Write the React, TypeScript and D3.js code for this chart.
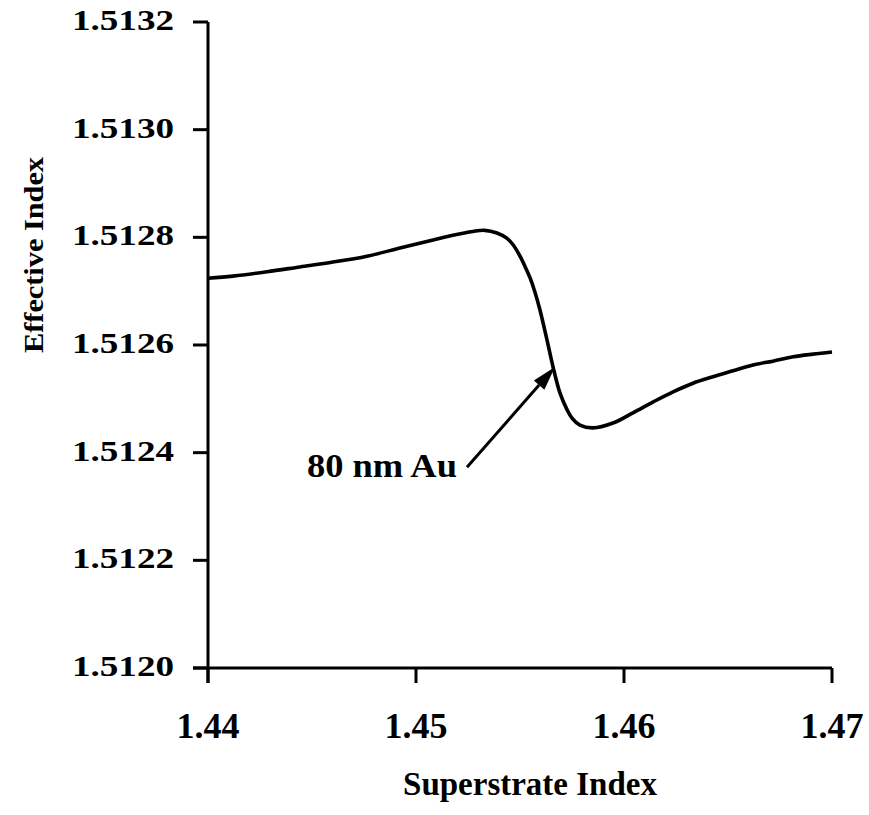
import React from "react";
import * as d3 from "d3";

// superstrate index vs effective index
const superstrate = [
  1.44, 1.4412, 1.44284, 1.44442, 1.44601, 1.44764, 1.44923, 1.45082, 1.45178,
  1.45274, 1.4533, 1.45389, 1.45438, 1.45471, 1.455, 1.45524, 1.45548,
  1.45572, 1.45596, 1.4563, 1.45659, 1.45692, 1.45726, 1.4575, 1.45788,
  1.45851, 1.45947, 1.46043, 1.46139, 1.46236, 1.46332, 1.46428, 1.46524,
  1.4662, 1.46716, 1.46813, 1.46909, 1.47,
];
const effective = [
  1.512724, 1.512728, 1.512736, 1.512745, 1.512754, 1.512765, 1.51278,
  1.512795, 1.512804, 1.512811, 1.512813, 1.512808, 1.512798, 1.512784,
  1.512765, 1.512746, 1.512725, 1.512698, 1.512665, 1.512609, 1.512559,
  1.512511, 1.51248, 1.512464, 1.512451, 1.512446, 1.512455, 1.512474,
  1.512494, 1.512513, 1.512529, 1.512541, 1.512552, 1.512563, 1.51257,
  1.512578, 1.512583, 1.512587,
];

const xTicks = [1.44, 1.45, 1.46, 1.47];
const yTicks = [1.512, 1.5122, 1.5124, 1.5126, 1.5128, 1.513, 1.5132];

// annotation: label end and arrow tip, in data units
const noteLabel = "80 nm Au";
const noteTail = [1.45245, 1.512373];
const noteTip = [1.45668, 1.512559];
const noteText = [1.45197, 1.512355];

const font = "'Liberation Serif', 'Times New Roman', serif";

export default function App() {
  const width = 869;
  const height = 815;
  const left = 208;
  const right = 832;
  const top = 22;
  const bottom = 668;

  const x = d3.scaleLinear().domain([1.44, 1.47]).range([left, right]);
  const y = d3.scaleLinear().domain([1.512, 1.5132]).range([bottom, top]);

  const pts = superstrate.map((s, i) => [s, effective[i]] as [number, number]);
  const line = d3
    .line<[number, number]>()
    .x((d) => x(d[0]))
    .y((d) => y(d[1]))
    .curve(d3.curveCatmullRom.alpha(0.5));

  // arrow geometry
  const tx = x(noteTail[0]);
  const ty = y(noteTail[1]);
  const hx = x(noteTip[0]);
  const hy = y(noteTip[1]);
  const ang = Math.atan2(hy - ty, hx - tx);
  const headLen = 24;
  const headW = 7;
  const bx = hx - headLen * Math.cos(ang);
  const by = hy - headLen * Math.sin(ang);
  const px = -Math.sin(ang) * headW;
  const py = Math.cos(ang) * headW;

  return (
    <svg
      width={width}
      height={height}
      style={{ position: "absolute", left: 0, top: 0, background: "#fff" }}
      fontFamily={font}
      fontWeight="bold"
    >
      <rect width={width} height={height} fill="#fff" />

      {/* axes */}
      <line x1={left} x2={left} y1={top} y2={bottom + 15} stroke="#000" strokeWidth={3} />
      <line x1={left - 15} x2={right} y1={bottom} y2={bottom} stroke="#000" strokeWidth={3} />

      {yTicks.map((t) => (
        <g key={t}>
          <line x1={left - 15} x2={left} y1={y(t)} y2={y(t)} stroke="#000" strokeWidth={3} />
          <text
            x={174}
            y={y(t) + 8}
            textAnchor="end"
            fontSize={29}
            textLength={102}
            lengthAdjust="spacingAndGlyphs"
          >
            {t.toFixed(4)}
          </text>
        </g>
      ))}

      {xTicks.map((t) => (
        <g key={t}>
          <line x1={x(t)} x2={x(t)} y1={bottom} y2={bottom + 15} stroke="#000" strokeWidth={3} />
          <text x={x(t)} y={738} textAnchor="middle" fontSize={36}>
            {t.toFixed(2)}
          </text>
        </g>
      ))}

      <text x={530} y={795} textAnchor="middle" fontSize={33}>
        Superstrate Index
      </text>
      <text
        transform="translate(43,255) rotate(-90)"
        textAnchor="middle"
        fontSize={28}
        textLength={196}
        lengthAdjust="spacingAndGlyphs"
      >
        Effective Index
      </text>

      <path d={line(pts) || ""} fill="none" stroke="#000" strokeWidth={3.6} strokeLinejoin="round" />

      {/* annotation */}
      <line x1={tx} y1={ty} x2={bx} y2={by} stroke="#000" strokeWidth={3} />
      <polygon
        points={`${hx},${hy} ${bx + px},${by + py} ${bx - px},${by - py}`}
        fill="#000"
      />
      <text
        x={x(noteText[0])}
        y={y(noteText[1])}
        textAnchor="end"
        fontSize={33}
        textLength={150}
        lengthAdjust="spacingAndGlyphs"
      >
        {noteLabel}
      </text>
    </svg>
  );
}
